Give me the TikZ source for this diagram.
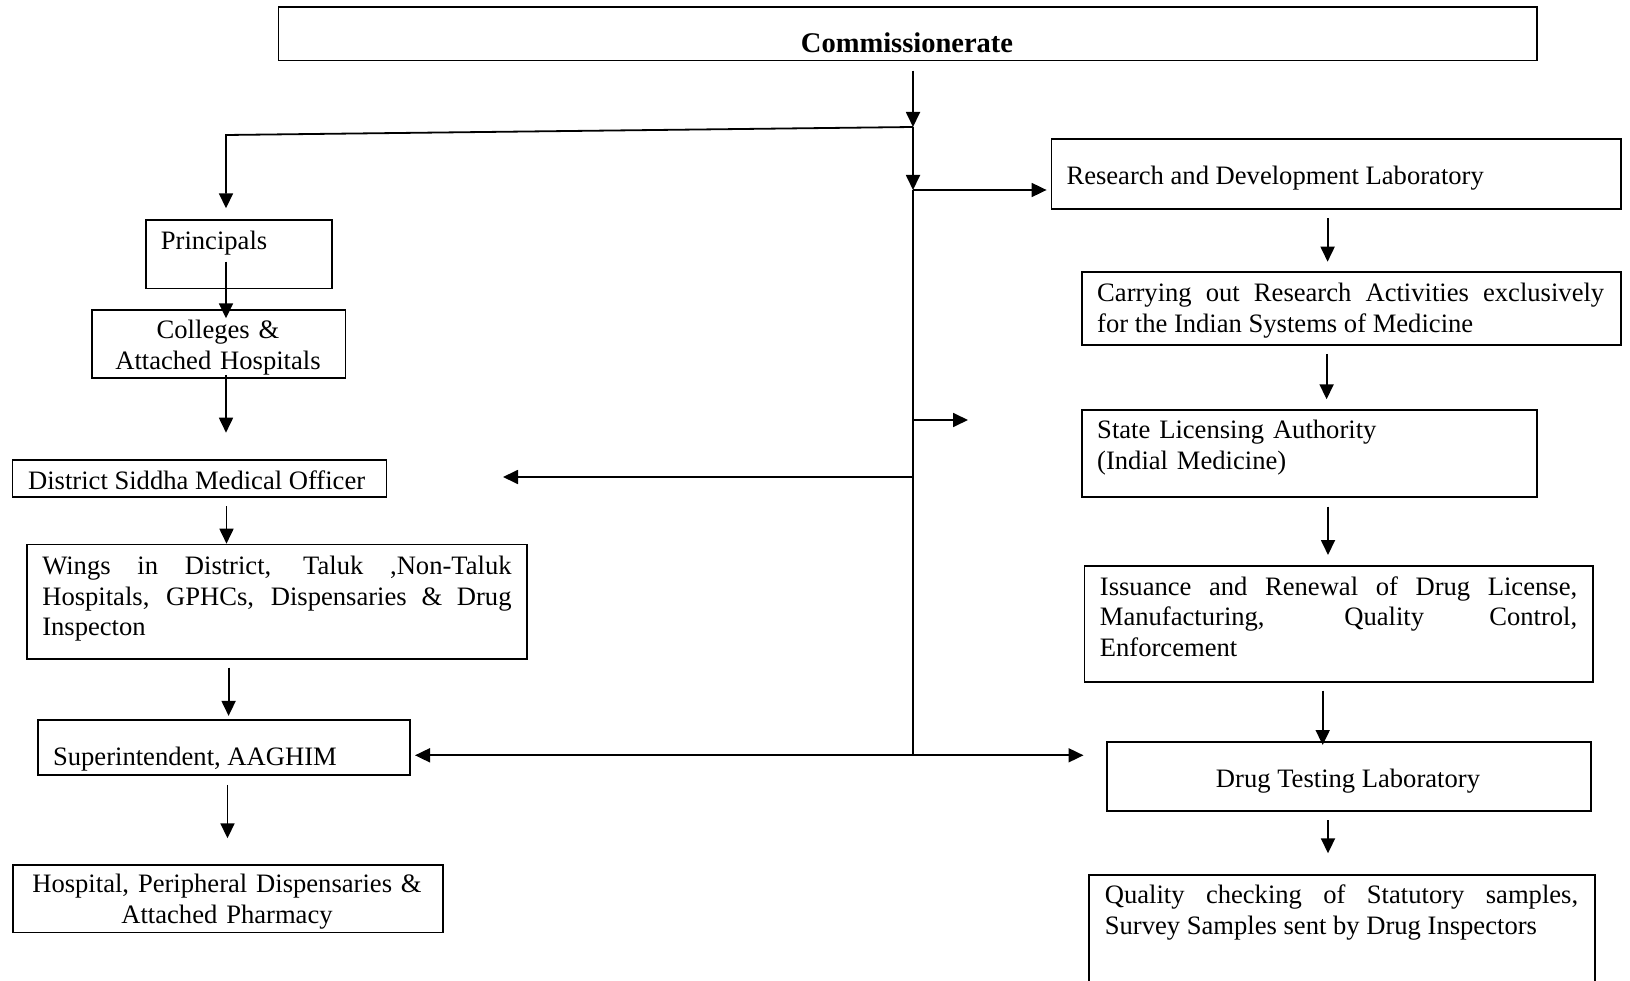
\documentclass[tikz,border=0pt]{standalone}
\usepackage{fontspec}
\setmainfont{Liberation Serif}
\usetikzlibrary{arrows.meta}
\begin{document}
\begin{tikzpicture}[x=1pt,y=-1pt,
  box/.style={draw,line width=1.8pt,inner sep=0pt,rectangle},
  txt/.style={inner sep=0pt,font=\fontsize{26.6}{30.6}\selectfont},
  ltxt/.style={txt,anchor=base west},
  jtxt/.style={txt,anchor=base west,align=justify},
  ctxt/.style={txt,anchor=base,align=center},
  arr/.style={line width=1.8pt,-{Triangle[length=15pt,width=14pt]}},
  ln/.style={line width=1.8pt}]
\useasboundingbox (0,0) rectangle (1630,981);
\hyphenpenalty=10000
% boxes
\node[box,minimum width=1258.2,minimum height=53.2] (comm) at (907.6,33.9) {};
\node[box,minimum width=186.1,minimum height=68.3] (prin) at (238.75,254.35) {};
\node[box,minimum width=253.6,minimum height=67.7] (coll) at (218.6,343.85) {};
\node[box,minimum width=373.9,minimum height=37.3] (dist) at (199.45,478.65) {};
\node[box,minimum width=500.2,minimum height=114.1] (wing) at (276.9,601.55) {};
\node[box,minimum width=372.1,minimum height=55.2] (supe) at (223.95,747.6) {};
\node[box,minimum width=430,minimum height=67.6] (hosp) at (227.9,898.6) {};
\node[box,minimum width=569.5,minimum height=69.8] (rnd) at (1336.25,174.1) {};
\node[box,minimum width=539.3,minimum height=72.7] (carr) at (1351.65,308.65) {};
\node[box,minimum width=454.8,minimum height=86.7] (stat) at (1309.4,453.35) {};
\node[box,minimum width=508.8,minimum height=116] (issu) at (1338.9,624) {};
\node[box,minimum width=484.7,minimum height=69] (drug) at (1348.95,776.5) {};
\node[box,minimum width=506.4,minimum height=125] (qual) at (1342.1,937.5) {};
% texts
\node[inner sep=0pt,anchor=base,font=\bfseries\fontsize{28.5}{34}\selectfont] (commt) at (907,53) {Commissionerate};
\node[ltxt] (print) at (160.7,250) {Principals};
\node[ctxt,text width=260] (collt) at (218,338.5) {Colleges \&\\Attached Hospitals};
\node[ltxt] (distt) at (27.9,489.5) {District Siddha Medical Officer};
\node[jtxt,text width=469.3] (wingt) at (42.1,574.5) {Wings in District, Taluk ,Non-Taluk\linebreak Hospitals, GPHCs, Dispensaries \& Drug\linebreak Inspecton};
\node[ltxt] (supet) at (52.9,765.5) {Superintendent, AAGHIM};
\node[ctxt,text width=430] (hospt) at (227,892.5) {Hospital, Peripheral Dispensaries \&\\Attached Pharmacy};
\node[ltxt] (rndt) at (1066.3,185) {Research and Development Laboratory};
\node[jtxt,text width=507] (carrt) at (1097,301.5) {Carrying out Research Activities exclusively\linebreak for the Indian Systems of Medicine};
\node[txt,anchor=base west,align=left,text width=430] (statt) at (1097,438.5) {State Licensing Authority\\(Indial Medicine)};
\node[jtxt,text width=477.3] (issut) at (1099.7,595) {Issuance and Renewal of Drug License,\linebreak Manufacturing, Quality Control,\linebreak Enforcement};
\node[txt,anchor=base] (drugt) at (1348,787.5) {Drug Testing Laboratory};
\node[jtxt,text width=473.4] (qualt) at (1104.6,903.5) {Quality checking of Statutory samples,\linebreak Survey Samples sent by Drug Inspectors};
% junction coordinates
\coordinate (c0) at (913,70.7);
\coordinate (j1) at (913,127);
\coordinate (j2) at (913,190);
\coordinate (js) at (913,420);
\coordinate (jd) at (913,477);
\coordinate (jb) at (913,755.3);
\coordinate (jl) at (226,135);
\coordinate (pa) at (226,208.3);
\coordinate (rndin) at (1046.6,190);
\coordinate (stubend) at (968,420);
\coordinate (distin) at (503,477);
\coordinate (supein) at (415,755.3);
\coordinate (drugin) at (1083.5,755.3);
% trunk
\draw[arr] (c0) -- (j1);
\draw[arr] (j1) -- (j2);
\draw[ln] (j2) -- (jb);
\draw[arr] (j1) -- (jl) -- (pa);
\draw[arr] (j2) -- (rndin);
\draw[arr] (js) -- (stubend);
\draw[arr] (jd) -- (distin);
\draw[arr] (jb) -- (supein);
\draw[arr] (jb) -- (drugin);
% left chain
\coordinate (a1s) at (226,261.7); \coordinate (a1e) at (226,318.3);
\coordinate (a2s) at (226,375);   \coordinate (a2e) at (226,432.7);
\coordinate (a3s) at (226.5,506); \coordinate (a3e) at (226.5,543.7);
\coordinate (a4s) at (228.6,667.6); \coordinate (a4e) at (228.6,715.9);
\coordinate (a5s) at (227.5,784.8); \coordinate (a5e) at (227.5,838.3);
\draw[arr] (a1s) -- (a1e);
\draw[arr] (a2s) -- (a2e);
\draw[arr] (a3s) -- (a3e);
\draw[arr] (a4s) -- (a4e);
\draw[arr] (a5s) -- (a5e);
% right chain
\coordinate (b1s) at (1327.6,218.3); \coordinate (b1e) at (1327.6,261.7);
\coordinate (b2s) at (1326.6,354);   \coordinate (b2e) at (1326.6,399.3);
\coordinate (b3s) at (1328,506.7);   \coordinate (b3e) at (1328,555);
\coordinate (b4s) at (1322.7,690.7); \coordinate (b4e) at (1322.7,745);
\coordinate (b5s) at (1328,820);     \coordinate (b5e) at (1328,853.3);
\draw[arr] (b1s) -- (b1e);
\draw[arr] (b2s) -- (b2e);
\draw[arr] (b3s) -- (b3e);
\draw[arr] (b4s) -- (b4e);
\draw[arr] (b5s) -- (b5e);
\end{tikzpicture}
\end{document}
